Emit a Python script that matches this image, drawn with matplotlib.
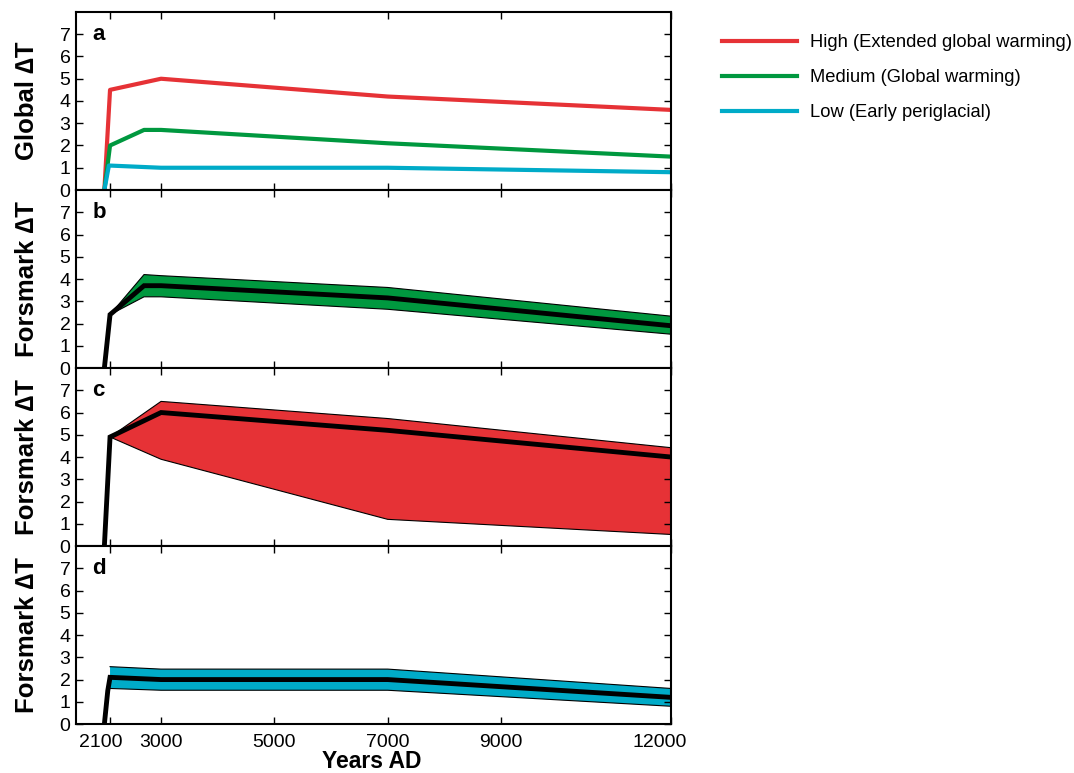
import matplotlib
matplotlib.use("Agg")
import matplotlib.pyplot as plt
import matplotlib.transforms as mtransforms

plt.rcParams['font.family'] = ['Liberation Sans', 'DejaVu Sans']

# Global temperature scenarios (panel a)
high_years = [2000, 2100, 3000, 7000, 12000]
high_global = [0, 4.5, 5.0, 4.2, 3.6]
medium_years = [2000, 2100, 2700, 3000, 7000, 12000]
medium_global = [0, 2.0, 2.7, 2.7, 2.1, 1.5]
low_years = [2000, 2080, 3000, 7000, 12000]
low_global = [0, 1.1, 1.0, 1.0, 0.8]

# Forsmark, medium scenario (panel b)
years_b = [2000, 2100, 2700, 3000, 7000, 12000]
mean_b = [0, 2.4, 3.7, 3.7, 3.15, 1.9]
band_years_b = [2100, 2700, 3000, 7000, 12000]
upper_b = [2.4, 4.2, 4.15, 3.62, 2.33]
lower_b = [2.4, 3.2, 3.2, 2.64, 1.52]

# Forsmark, high scenario (panel c)
years_c = [2000, 2100, 3000, 7000, 12000]
mean_c = [0, 4.9, 6.0, 5.2, 4.0]
band_years_c = [2100, 3000, 7000, 12000]
upper_c = [4.9, 6.5, 5.73, 4.42]
lower_c = [4.9, 3.9, 1.2, 0.52]

# Forsmark, low scenario (panel d)
years_d = [2000, 2060, 2100, 3000, 7000, 12000]
mean_d = [0, 1.5, 2.1, 2.0, 2.0, 1.2]
band_years_d = [2100, 3000, 7000, 12000]
upper_d = [2.58, 2.47, 2.47, 1.6]
lower_d = [1.6, 1.52, 1.52, 0.8]

xticks = [2100, 3000, 5000, 7000, 9000, 12000]
red = '#e63236'
green = '#00983f'
cyan = '#00abc8'

fig = plt.figure(figsize=(10.74, 7.73), dpi=100)
left, width = 0.0708, 0.554
top, height = 0.9845, 0.2303
axes = [fig.add_axes([left, top - (i + 1) * height, width, height]) for i in range(4)]

ax = axes[0]
ax.plot(high_years, high_global, color=red, lw=3, label='High (Extended global warming)')
ax.plot(medium_years, medium_global, color=green, lw=3, label='Medium (Global warming)')
ax.plot(low_years, low_global, color=cyan, lw=3, label='Low (Early periglacial)')

bands = [
    (axes[1], band_years_b, upper_b, lower_b, years_b, mean_b, green),
    (axes[2], band_years_c, upper_c, lower_c, years_c, mean_c, red),
    (axes[3], band_years_d, upper_d, lower_d, years_d, mean_d, cyan),
]
for ax, by, up, lo, my, mv, col in bands:
    ax.fill_between(by, lo, up, facecolor=col, edgecolor='none', zorder=1)
    ax.plot(by, up, color='black', lw=0.8, zorder=2)
    ax.plot(by, lo, color='black', lw=0.8, zorder=2)
    ax.plot(my, mv, color='black', lw=3.5, zorder=3, solid_joinstyle='miter')

labels = ['Global \u2206T', 'Forsmark \u2206T', 'Forsmark \u2206T', 'Forsmark \u2206T']
letters = ['a', 'b', 'c', 'd']
for i, ax in enumerate(axes):
    ax.set_xlim(1500, 12000)
    ax.set_ylim(0, 8)
    ax.set_yticks(range(0, 8))
    ax.set_xticks(xticks)
    ax.tick_params(direction='in', top=True, right=True, length=5, width=1,
                   labelsize=14, pad=4)
    ax.tick_params(axis='x', pad=7)
    ax.tick_params(axis='y', labelright=False)
    for s in ax.spines.values():
        s.set_linewidth(1.5)
    if i < 3:
        ax.tick_params(labelbottom=False)
    ax.set_ylabel(labels[i], fontsize=18.5, fontweight='bold')
    ax.yaxis.set_label_coords(-0.062, 0.5)
    ax.text(0.027, 0.875, letters[i], transform=ax.transAxes, fontsize=16,
            fontweight='bold', va='center', ha='left')

# nudge the end labels so 2100 and 12000 sit clear of their neighbours / edge
ticklabels = axes[3].get_xticklabels()
for lab, dx in [(ticklabels[0], -9), (ticklabels[-1], -11)]:
    lab.set_transform(lab.get_transform() +
                      mtransforms.ScaledTranslation(dx / 100, 0, fig.dpi_scale_trans))

fig.text(0.346, 0.0, 'Years AD', fontsize=16.5, fontweight='bold',
         ha='center', va='bottom')

fig.legend(*axes[0].get_legend_handles_labels(), loc='upper left',
           bbox_to_anchor=(0.657, 0.977), frameon=False, fontsize=13.2,
           handlelength=4.1, labelspacing=0.98, handletextpad=0.7)

fig.savefig('out.png', dpi=100)
